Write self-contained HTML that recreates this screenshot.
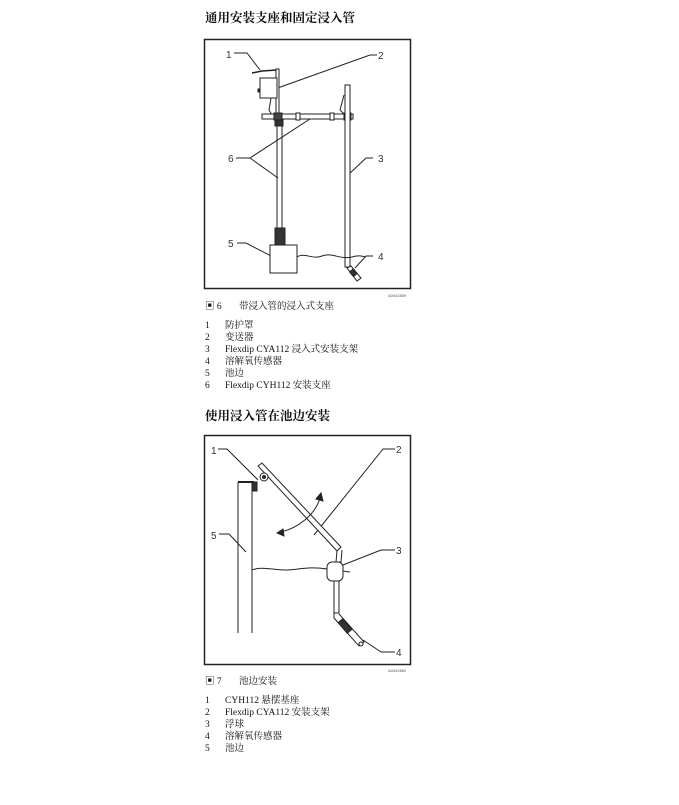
<!DOCTYPE html>
<html><head><meta charset="utf-8"><style>
html,body{margin:0;padding:0;background:#fff;width:679px;height:805px;overflow:hidden}
.t{position:absolute;font-family:"Liberation Serif","Noto Serif CJK SC",serif;color:#111;white-space:nowrap;line-height:1}
.h{font-size:12.5px;font-weight:bold}
.s{font-size:9.5px}
svg{position:absolute;left:0;top:0}
.n{font-family:"Liberation Sans",sans-serif;font-size:10px;fill:#333;stroke:none}
</style></head><body>
<div class="t h" style="left:205px;top:12px">通用安装支座和固定浸入管</div>
<svg width="679" height="805" viewBox="0 0 679 805" fill="none" stroke="#222" stroke-width="1">
<!-- fig1 -->
<rect x="204.5" y="39.5" width="206" height="249" stroke-width="1.5"/>
<text x="388" y="297" font-size="4" fill="#555" stroke="none" font-family="Liberation Sans">A0042859</text>
<text class="n" x="226" y="58">1</text>
<text class="n" x="378" y="59">2</text>
<text class="n" x="378" y="162">3</text>
<text class="n" x="378" y="260">4</text>
<text class="n" x="228" y="247">5</text>
<text class="n" x="228" y="162">6</text>
<!-- leaders -->
<polyline points="234,53 247,53 260,70"/>
<polyline points="377,55 370,55 272,90"/>
<polyline points="373,158 366,158 348,175"/>
<polyline points="373,256 366,256 355,268"/>
<polyline points="237,243 246,243 275,258"/>
<polyline points="236,158 250,158 313,117"/>
<line x1="250" y1="158" x2="278" y2="178"/>
<!-- roof & post -->
<polyline points="252,73 262,71 277,70" stroke-width="1.5"/>
<rect x="276" y="69" width="3" height="54" fill="#fff"/>
<rect x="260" y="78" width="17" height="20" fill="#fff"/>
<rect x="258" y="89" width="2" height="3" fill="#222"/>
<path d="M271,98 L269,110 L272,115"/>
<!-- horizontal bar -->
<rect x="262" y="114" width="91" height="5" fill="#fff"/>
<rect x="274" y="113" width="8" height="7" fill="#444"/>
<rect x="296" y="113" width="4" height="7" fill="#fff"/>
<rect x="330" y="113" width="4" height="7" fill="#fff"/>
<rect x="344" y="113" width="7" height="7" fill="#444"/>
<rect x="275" y="120" width="8" height="6" fill="#333"/>
<!-- left pole -->
<line x1="277" y1="126" x2="277" y2="228"/><line x1="282" y1="126" x2="282" y2="228"/>
<rect x="275" y="228" width="10" height="17" fill="#333"/>
<rect x="270" y="245" width="27" height="28" fill="#fff"/>
<!-- right pipe -->
<rect x="345" y="85" width="5" height="182" fill="#fff"/>
<path d="M344,95 L340,110 L344,114"/>
<path d="M347,268 L357,281 L361,278 L351,266 Z" fill="#fff"/>
<rect x="351" y="270" width="4" height="6" fill="#333" transform="rotate(-40 353 273)"/>
<!-- water -->
<path d="M297,257 C305,252 312,260 322,256 C332,252 340,260 352,257 C358,255 362,256 366,257"/>
<!-- fig2 -->
<rect x="204.5" y="435.5" width="206" height="229" stroke-width="1.5"/>
<text x="388" y="672" font-size="4" fill="#555" stroke="none" font-family="Liberation Sans">A0042860</text>
<text class="n" x="211" y="454">1</text>
<text class="n" x="396" y="453">2</text>
<text class="n" x="396" y="554">3</text>
<text class="n" x="396" y="656">4</text>
<text class="n" x="211" y="539">5</text>
<polyline points="218,449 227,449 258,480"/>
<polyline points="395,449 383,449 314,535"/>
<polyline points="395,550 381,550 343,565"/>
<polyline points="395,652 381,652 363,640"/>
<polyline points="219,534 229,534 246,552"/>
<!-- wall -->
<line x1="238" y1="482" x2="238" y2="633"/><line x1="252" y1="482" x2="252" y2="633"/>
<line x1="238" y1="482" x2="254" y2="482" stroke-width="2"/>
<rect x="252" y="482" width="5" height="9" fill="#333"/>
<!-- angled pipe -->
<path d="M258,466 L262,463 L341,547 L337,551 Z" fill="#fff"/>
<circle cx="264" cy="477" r="4" fill="#fff"/><circle cx="264" cy="477" r="1.5" fill="#333"/>
<path d="M337,551 L336,562 L341,562 L342,550"/>
<!-- float -->
<rect x="327" y="562" width="16" height="19" rx="5" fill="#fff"/>
<path d="M343,571 L350,572"/>
<rect x="334" y="581" width="5" height="32" fill="#fff"/>
<path d="M334,613 L334,618 L359,646 L364,642 L339,614"/>
<rect x="342" y="619" width="6" height="14" fill="#333" transform="rotate(-40 345 626)"/>
<circle cx="361" cy="644" r="2" fill="#fff"/>
<!-- water -->
<path d="M252,570 C262,566 272,570 285,570 C298,570 308,566 327,569"/>
<!-- curved arrow -->
<path d="M320,498 C315,515 298,528 281,532"/>
<path d="M316,499 L321,493 L323,501 Z" fill="#222"/>
<path d="M283,529 L277,533 L284,536 Z" fill="#222"/>
</svg>
<div class="t h" style="left:205px;top:410px">使用浸入管在池边安装</div>
<div class="t s" style="left:205px;top:303px">▣ 6</div>
<div class="t s" style="left:239px;top:303px">带浸入管的浸入式支座</div>
<div class="t s" style="left:205px;top:320px;line-height:12px">1<br>2<br>3<br>4<br>5<br>6</div>
<div class="t s" style="left:225px;top:320px;line-height:12px">防护罩<br>变送器<br>Flexdip CYA112 浸入式安装支架<br>溶解氧传感器<br>池边<br>Flexdip CYH112 安装支座</div>
<div class="t s" style="left:205px;top:678px">▣ 7</div>
<div class="t s" style="left:239px;top:678px">池边安装</div>
<div class="t s" style="left:205px;top:695px;line-height:12px">1<br>2<br>3<br>4<br>5</div>
<div class="t s" style="left:225px;top:695px;line-height:12px">CYH112 悬摆基座<br>Flexdip CYA112 安装支架<br>浮球<br>溶解氧传感器<br>池边</div>
</body></html>
